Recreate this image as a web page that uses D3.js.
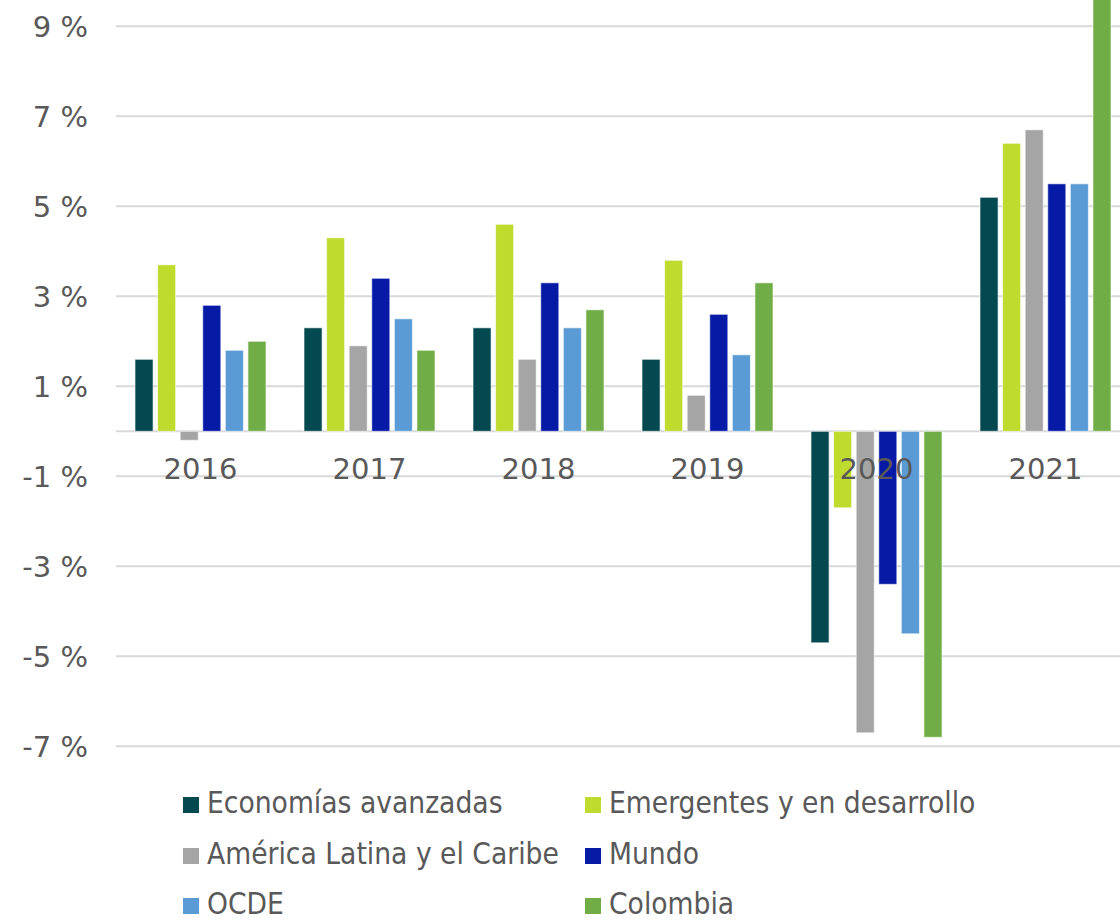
<!DOCTYPE html>
<html>
<head>
<meta charset="utf-8">
<script src="https://cdn.jsdelivr.net/npm/d3@7/dist/d3.min.js"></script>
<style>
  html, body { margin: 0; padding: 0; background: #ffffff; }
  svg { display: block; }
</style>
</head>
<body>
<svg id="chart" width="1120" height="920"></svg>
<script>
const years = ["2016", "2017", "2018", "2019", "2020", "2021"];
const seriesNames = ["Economías avanzadas", "Emergentes y en desarrollo", "América Latina y el Caribe", "Mundo", "OCDE", "Colombia"];
const seriesColors = ["#054950", "#bedb2e", "#a5a5a5", "#061aa6", "#5b9bd5", "#70ad47"];
const economiasAvanzadas = [1.6, 2.3, 2.3, 1.6, -4.7, 5.2];
const emergentes = [3.7, 4.3, 4.6, 3.8, -1.7, 6.4];
const americaLatina = [-0.2, 1.9, 1.6, 0.8, -6.7, 6.7];
const mundo = [2.8, 3.4, 3.3, 2.6, -3.4, 5.5];
const ocde = [1.8, 2.5, 2.3, 1.7, -4.5, 5.5];
const colombia = [2.0, 1.8, 2.7, 3.3, -6.8, 10.6];
const yTicks = [-7, -5, -3, -1, 1, 3, 5, 7, 9];

const seriesValues = [economiasAvanzadas, emergentes, americaLatina, mundo, ocde, colombia];

const svg = d3.select("#chart");
const axisFont = "'DejaVu Sans', sans-serif";
const legendFont = "'DejaVu Sans Condensed', 'DejaVu Sans', sans-serif";
const textColor = "#595959";

const x0 = d3.scaleBand().domain(years).range([116, 1130]).paddingInner(0).paddingOuter(0);
const x1 = d3.scaleBand().domain(seriesNames).range([19, 169 - 19]).paddingInner(0.2).paddingOuter(0);
const y = d3.scaleLinear().domain([-7, 9]).range([746.3, 26.3]);

// gridlines
svg.append("g").selectAll("line").data(yTicks).join("line")
  .attr("x1", 116).attr("x2", 1130)
  .attr("y1", d => y(d)).attr("y2", d => y(d))
  .attr("stroke", "#d9d9d9").attr("stroke-width", 2);

// y labels
svg.append("g").selectAll("text").data(yTicks).join("text")
  .attr("x", 88).attr("y", d => y(d) + 10.5)
  .attr("text-anchor", "end")
  .attr("font-family", axisFont).attr("font-size", 29)
  .attr("fill", textColor)
  .text(d => d + " %");

// zero line
svg.append("line")
  .attr("x1", 116).attr("x2", 1130)
  .attr("y1", y(0)).attr("y2", y(0))
  .attr("stroke", "#d9d9d9").attr("stroke-width", 2);

// bars
const rows = [];
seriesNames.forEach((s, si) => {
  years.forEach((yr, yi) => rows.push({ series: s, si, year: yr, value: seriesValues[si][yi] }));
});
svg.append("g").selectAll("rect").data(rows).join("rect")
  .attr("x", d => x0(d.year) + x1(d.series))
  .attr("width", x1.bandwidth())
  .attr("y", d => y(Math.max(0, d.value)))
  .attr("height", d => Math.abs(y(d.value) - y(0)))
  .attr("fill", d => seriesColors[d.si])
  .attr("stroke", "rgba(255,255,255,0.6)").attr("stroke-width", 1);

// x labels
svg.append("g").selectAll("text").data(years).join("text")
  .attr("x", d => x0(d) + x0.bandwidth() / 2)
  .attr("y", 479)
  .attr("text-anchor", "middle")
  .attr("font-family", axisFont).attr("font-size", 29)
  .attr("fill", textColor)
  .text(d => d);

// legend
const legendCols = [183, 585];
const legendRows = [813, 864, 914];
const lg = svg.append("g").selectAll("g").data(seriesNames).join("g")
  .attr("transform", (d, i) => `translate(${legendCols[i % 2]},${legendRows[Math.floor(i / 2)]})`);
lg.append("rect").attr("x", 0).attr("y", -16).attr("width", 16).attr("height", 16)
  .attr("fill", (d, i) => seriesColors[i]);
lg.append("text").attr("x", 24).attr("y", 0)
  .attr("font-family", legendFont).attr("font-size", 29.6)
  .attr("fill", textColor)
  .text(d => d);
</script>
</body>
</html>
